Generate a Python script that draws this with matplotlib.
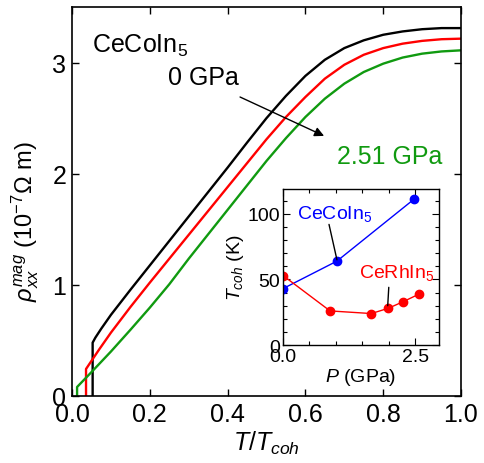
import matplotlib
matplotlib.use("Agg")
import matplotlib.pyplot as plt

plt.rcParams['font.family'] = ['Liberation Sans', 'DejaVu Sans']
plt.rcParams['mathtext.fontset'] = 'custom'
plt.rcParams['mathtext.rm'] = 'Liberation Sans'
plt.rcParams['mathtext.it'] = 'Liberation Sans:italic'
plt.rcParams['mathtext.bf'] = 'Liberation Sans:bold'

# Main panel data: rho_xx^mag (1e-7 Ohm m) vs T/Tcoh
t_0gpa = [0.053, 0.053, 0.06, 0.075, 0.10, 0.15, 0.20, 0.25, 0.30, 0.35, 0.40,
          0.45, 0.50, 0.55, 0.60, 0.65, 0.70, 0.75, 0.80, 0.85, 0.90, 0.95, 1.0]
rho_0gpa = [0.0, 0.48, 0.525, 0.605, 0.73, 0.955, 1.175, 1.395, 1.615, 1.835, 2.055,
            2.28, 2.50, 2.70, 2.88, 3.025, 3.13, 3.20, 3.25, 3.28, 3.30, 3.31, 3.31]

t_mid = [0.036, 0.036, 0.045, 0.07, 0.10, 0.15, 0.20, 0.25, 0.30, 0.35, 0.40,
         0.45, 0.50, 0.55, 0.60, 0.65, 0.70, 0.75, 0.80, 0.85, 0.90, 0.95, 1.0]
rho_mid = [0.0, 0.243, 0.29, 0.42, 0.57, 0.80, 1.02, 1.235, 1.45, 1.665, 1.88,
           2.095, 2.31, 2.51, 2.69, 2.855, 2.98, 3.07, 3.13, 3.17, 3.195, 3.21, 3.215]

t_251gpa = [0.013, 0.013, 0.05, 0.10, 0.15, 0.20, 0.25, 0.30, 0.35, 0.40, 0.45,
            0.50, 0.55, 0.60, 0.65, 0.70, 0.75, 0.80, 0.85, 0.90, 0.95, 1.0]
rho_251gpa = [0.0, 0.081, 0.215, 0.40, 0.595, 0.795, 1.005, 1.235, 1.455, 1.675, 1.895,
              2.115, 2.32, 2.51, 2.675, 2.81, 2.915, 2.99, 3.045, 3.08, 3.10, 3.11]

# Inset data: Tcoh (K) vs pressure (GPa)
p_co = [0.0, 1.02, 2.47]
tcoh_co = [43, 64, 111]
p_rh = [0.0, 0.89, 1.67, 1.99, 2.27, 2.58]
tcoh_rh = [53, 26, 24, 28, 33, 39]

green = '#109a10'

fig = plt.figure(figsize=(4.85, 4.64), dpi=100)
ax = fig.add_axes([0.1485, 0.1444, 0.802, 0.8384])

ax.plot(t_0gpa, rho_0gpa, color='black', lw=1.7)
ax.plot(t_mid, rho_mid, color='#ff0000', lw=1.7)
ax.plot(t_251gpa, rho_251gpa, color=green, lw=1.7)

ax.set_xlim(0, 1.0)
ax.set_ylim(0, 3.5)
ax.set_xticks([0.0, 0.2, 0.4, 0.6, 0.8, 1.0])
ax.set_xticklabels(['0.0', '0.2', '0.4', '0.6', '0.8', '1.0'])
ax.set_yticks([0, 1, 2, 3])
ax.tick_params(direction='in', top=True, right=True, length=5, width=1,
               labelsize=18, pad=4)
for s in ax.spines.values():
    s.set_linewidth(1.2)

ax.set_xlabel(r'$T/T_{coh}$', fontsize=18, labelpad=2)
ax.set_ylabel(r'$\rho_{xx}^{mag}$ (10$^{-7}$$\Omega$ m)', fontsize=17)
ax.yaxis.set_label_coords(-0.08, 0.45)

ax.text(0.051, 3.16, r'CeCoIn$_5$', fontsize=18, ha='left', va='center')
ax.text(0.337, 2.87, '0 GPa', fontsize=18, ha='center', va='center')
ax.text(0.817, 2.16, '2.51 GPa', fontsize=18, ha='center', va='center', color=green)
ax.annotate('', xy=(0.648, 2.34), xytext=(0.432, 2.69),
            arrowprops=dict(arrowstyle='-|>', color='black', lw=1.0,
                            mutation_scale=14, shrinkA=0, shrinkB=0))

# Inset
ins = fig.add_axes([0.5835, 0.2543, 0.3217, 0.3362])
ins.plot(p_co, tcoh_co, color='#0000ff', lw=1.0, marker='o', ms=6, mec='#0000ff')
ins.plot(p_rh, tcoh_rh, color='#ff0000', lw=1.0, marker='o', ms=6, mec='#ff0000')
ins.set_xlim(0, 2.95)
ins.set_ylim(0, 119)
ins.set_xticks([0.0, 2.5])
ins.set_xticklabels(['0.0', '2.5'])
ins.set_xticks([0.5, 1.0, 1.5, 2.0], minor=True)
ins.set_yticks([0, 50, 100])
ins.set_yticks(range(10, 120, 10), minor=True)
ins.tick_params(which='both', direction='in', top=True, right=True, width=0.8,
                labelsize=14, pad=2)
ins.tick_params(which='major', length=5)
ins.tick_params(which='minor', length=3)
for s in ins.spines.values():
    s.set_linewidth(1.0)
ins.set_xlabel(r'$P$ (GPa)', fontsize=14, labelpad=1)
ins.set_ylabel(r'$T_{coh}$ (K)', fontsize=14, labelpad=1)

ins.text(0.97, 101, r'CeCoIn$_5$', fontsize=14, color='#0000ff', ha='center', va='center')
ins.annotate('', xy=(1.02, 65), xytext=(0.87, 92),
             arrowprops=dict(arrowstyle='-', color='black', lw=1.0, shrinkA=0, shrinkB=0))
ins.text(2.14, 56, r'CeRhIn$_5$', fontsize=14, color='#ff0000', ha='center', va='center')
ins.annotate('', xy=(1.98, 30), xytext=(2.0, 44),
             arrowprops=dict(arrowstyle='-', color='black', lw=1.0, shrinkA=0, shrinkB=0))

fig.savefig('out.png', dpi=100)
